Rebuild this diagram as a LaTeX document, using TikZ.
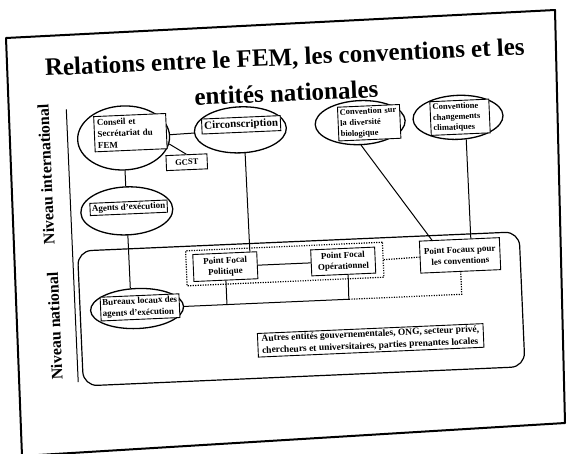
\documentclass[tikz,border=0pt]{standalone}
\usepackage{fontspec}
\setmainfont{Liberation Serif}
\usetikzlibrary{shapes.geometric}
\newcommand\myfs[2]{\fontsize{#1}{#2}\selectfont}
\begin{document}
\begin{tikzpicture}[x=1pt,y=-1pt,
  ell/.style={ellipse, draw, line width=1.3pt, fill=white, inner sep=0pt},
  tb/.style={rectangle, draw, line width=0.9pt, fill=white, inner sep=2pt, font=\bfseries\myfs{9}{11}},
  conn/.style={line width=1pt},
  dotl/.style={line width=1.2pt, dash pattern=on 1.2pt off 1.3pt},
  lbl/.style={font=\bfseries\myfs{16}{18}, rotate=90, inner sep=0pt}]
\useasboundingbox (0,0) rectangle (570,453);
\fill[white] (0,0) rectangle (570,453);
\draw[line width=2pt, line join=round] (6,38) -- (555,10) -- (565,423) -- (22,456) -- cycle;
\begin{scope}[rotate around={2.5:(285,235)}, transform shape]
 \node[font=\bfseries\myfs{25}{36}, align=center, inner sep=0pt] (title) at (292.5,75) {Relations entre le FEM, les conventions et les\\entités nationales};
 \node[lbl] (nint) at (49,164) {Niveau international};
 \node[lbl] (nnat) at (51,316) {Niveau national};
 \coordinate (sepT) at (72,100);
 \coordinate (sepB) at (72,373);
 \draw[conn] (sepT) -- (sepB);
 \node[draw, line width=1.2pt, rounded corners=14pt, minimum width=442pt, minimum height=135pt] (natl) at (298,309.5) {};
 \node[draw, dotl, minimum width=197pt, minimum height=35pt] (grp) at (283.5,264) {};
 % international level
 \node[ell, minimum width=92pt, minimum height=64pt] (con) at (128,131) {};
 \node[tb, align=left, text width=66pt, inner sep=3pt, font=\bfseries\myfs{9}{11.5}] (conT) at (135,126) {Conseil et\\Secrétariat du\\FEM};
 \node[ell, minimum width=92pt, minimum height=46pt] (circ) at (245,128) {};
 \node[tb, font=\bfseries\myfs{11}{12}, inner sep=2.5pt] (circT) at (246,123) {Circonscription};
 \node[tb, font=\bfseries\myfs{8.5}{10}, minimum width=41pt, minimum height=15pt, inner sep=1pt] (gcst) at (190,158) {GCST};
 \node[ell, minimum width=92pt, minimum height=48pt] (agents) at (128,204) {};
 \node[tb, inner sep=2pt] (agentsT) at (130,201) {Agents d'exécution};
 \node[ell, minimum width=90pt, minimum height=44pt] (cdb) at (365,126) {};
 \node[tb, align=left, text width=58pt, inner sep=2pt, font=\bfseries\myfs{8.5}{11}] (cdbT) at (374,126.5) {Convention sur\\la diversité\\biologique};
 \node[ell, minimum width=90pt, minimum height=44pt] (clim) at (463,125) {};
 \node[tb, align=left, text width=54pt, inner sep=2.5pt, font=\bfseries\myfs{8.5}{10.5}] (climT) at (465,125) {Conventione\\changements\\climatiques};
 % national level
 \node[ell, minimum width=93pt, minimum height=40pt] (bur) at (134,302) {};
 \node[tb, align=left, inner sep=2pt, font=\bfseries\myfs{9}{11.5}] (burT) at (137,301) {Bureaux locaux des\\agents d'exécution};
 \node[tb, align=center, minimum width=64pt, minimum height=27pt] (pfp) at (224,264) {Point Focal\\Politique};
 \node[tb, align=center, minimum width=64pt, minimum height=26pt] (pfo) at (342,264) {Point Focal\\Opérationnel};
 \node[tb, align=center, inner xsep=1.5pt, minimum width=80pt, minimum height=32pt] (pf) at (459,263) {Point Focaux pour\\les conventions};
 \node[tb, align=left, font=\bfseries\myfs{9.5}{12}, inner xsep=4pt, inner ysep=1.5pt] (autres) at (366,344) {Autres entités gouvernementales, ONG, secteur privé,\\chercheurs et universitaires, parties prenantes locales};
 % connectors
 \draw[conn] (con) -- (circ);
 \draw[conn] (con.-10) -- (gcst.north);
 \draw[conn] (con.south) -- (agents.north);
 \draw[conn] (agents.south) -- (bur.106.8);
 \draw[conn] (circ.-81.6) -- (pfp.29);
 \draw[conn] (pfp) -- (pfo);
 \coordinate (jP) at (224,302);
 \coordinate (jO) at (346,302);
 \coordinate (jF) at (459,302);
 \draw[conn] (bur.east) -- (jO);
 \draw[conn] (pfp.south) -- (jP);
 \draw[conn] (pfo.-72.9) -- (jO);
 \draw[dotl] (jO) -- (jF) -- (pf.south);
 \draw[dotl] (grp.east) -- (pf.west);
 \draw[conn] (cdb.south) -- (pf.149.35);
 \draw[conn] (clim.-72.1) -- (pf.55.5);
\end{scope}
\end{tikzpicture}
\end{document}
